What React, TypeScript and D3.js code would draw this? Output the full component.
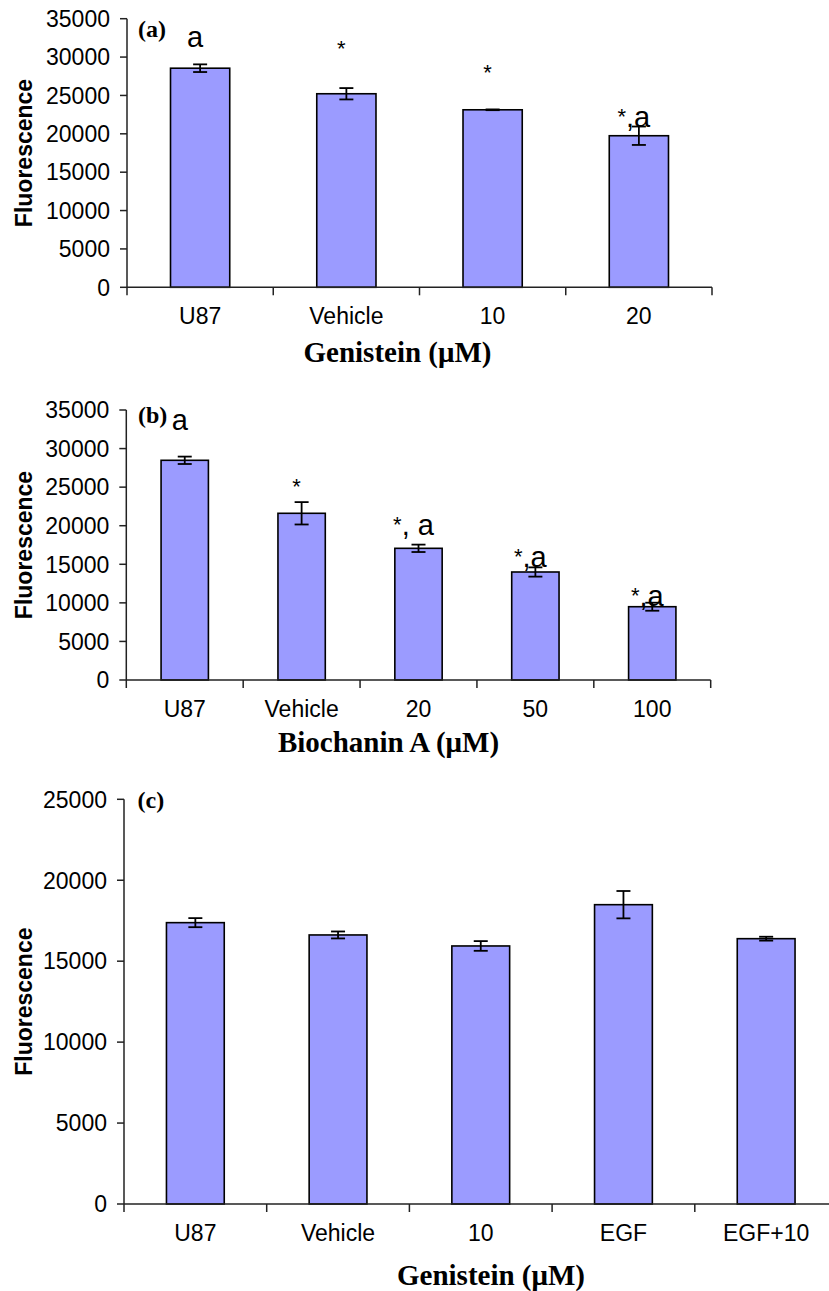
import React from "react";
import * as d3 from "d3";

// ---------- DATA ----------
const catsA = ["U87", "Vehicle", "10", "20"];
const valsA = [28550, 25220, 23130, 19750];
const errsA = [500, 740, 50, 1200];
const notesA = ["a", "*", "*", "*,a"];
const noteLevelA = [31300, 29740, 26650, 20880];

const catsB = ["U87", "Vehicle", "20", "50", "100"];
const valsB = [28480, 21610, 17070, 14000, 9500];
const errsB = [480, 1450, 480, 600, 520];
const notesB = ["a", "*", "*, a", "*,a", "*,a"];
const noteLevelB = [32400, 23720, 18800, 14650, 9590];

const catsC = ["U87", "Vehicle", "10", "EGF", "EGF+10"];
const valsC = [17380, 16620, 15940, 18490, 16390];
const errsC = [280, 215, 300, 845, 120];

const ticksAB = [0, 5000, 10000, 15000, 20000, 25000, 30000, 35000];
const ticksC = [0, 5000, 10000, 15000, 20000, 25000];

// ---------- STYLE ----------
const SANS = "'Liberation Sans', Arial, Helvetica, sans-serif";
const SERIF = "'Liberation Serif', 'Times New Roman', Times, serif";
const FILL = "#9b9bff";
const AXIS = "#222";

type Panel = {
  cats: string[];
  vals: number[];
  errs: number[];
  notes?: string[];
  noteLevels?: number[];
  ticks: number[];
  yMax: number;
  x0: number;
  x1: number;
  yTop: number;
  yBottom: number;
  tag: string;
  tagX: number;
  tagY: number;
  title: string;
  titleX: number;
  titleY: number;
};

const panels: Panel[] = [
  {
    cats: catsA, vals: valsA, errs: errsA, notes: notesA, noteLevels: noteLevelA,
    ticks: ticksAB, yMax: 35000,
    x0: 127, x1: 712, yTop: 18.7, yBottom: 287.3,
    tag: "(a)", tagX: 138, tagY: 37,
    title: "Genistein (\u03bcM)", titleX: 397.5, titleY: 361.5,
  },
  {
    cats: catsB, vals: valsB, errs: errsB, notes: notesB, noteLevels: noteLevelB,
    ticks: ticksAB, yMax: 35000,
    x0: 126.3, x1: 710.7, yTop: 410, yBottom: 680,
    tag: "(b)", tagX: 138, tagY: 423,
    title: "Biochanin A (\u03bcM)", titleX: 388.5, titleY: 751.5,
  },
  {
    cats: catsC, vals: valsC, errs: errsC,
    ticks: ticksC, yMax: 25000,
    x0: 124, x1: 837.5, yTop: 799.3, yBottom: 1204,
    tag: "(c)", tagX: 137.5, tagY: 808,
    title: "Genistein (\u03bcM)", titleX: 491, titleY: 1285,
  },
];

function NoteText({ s }: { s: string }) {
  const parts: React.ReactNode[] = [];
  let shifted = false;
  s.split("").forEach((ch, k) => {
    if (ch === "*") {
      parts.push(
        <tspan key={k} fontSize={22} dy={shifted ? 0 : -3}>
          *
        </tspan>
      );
      shifted = true;
    } else {
      parts.push(
        <tspan key={k} dy={shifted ? 3 : 0}>
          {ch}
        </tspan>
      );
      shifted = false;
    }
  });
  return <>{parts}</>;
}

function BarPanel({ p }: { p: Panel }) {
  const x = d3.scaleBand<string>().domain(p.cats).range([p.x0, p.x1]).padding(0);
  const y = d3.scaleLinear().domain([0, p.yMax]).range([p.yBottom, p.yTop]);
  const bw = x.bandwidth();
  const barW = bw * 0.405;
  const capW = 14;
  const boundaries = [...p.cats.map((c) => x(c) as number), p.x1];
  const yMid = (p.yTop + p.yBottom) / 2;

  return (
    <g>
      {p.cats.map((c, i) => {
        const cx = (x(c) as number) + bw / 2;
        return (
          <rect
            key={"bar" + c}
            x={cx - barW / 2}
            y={y(p.vals[i])}
            width={barW}
            height={y(0) - y(p.vals[i])}
            fill={FILL}
            stroke="#000"
            strokeWidth={1.6}
          />
        );
      })}
      {p.cats.map((c, i) => {
        const cx = (x(c) as number) + bw / 2;
        const hi = y(p.vals[i] + p.errs[i]);
        const lo = y(p.vals[i] - p.errs[i]);
        return (
          <g key={"err" + c} stroke="#000" strokeWidth={1.8}>
            <line x1={cx} x2={cx} y1={hi} y2={lo} />
            <line x1={cx - capW / 2} x2={cx + capW / 2} y1={hi} y2={hi} />
            <line x1={cx - capW / 2} x2={cx + capW / 2} y1={lo} y2={lo} />
          </g>
        );
      })}
      <line x1={p.x0} x2={p.x0} y1={p.yTop} y2={p.yBottom} stroke={AXIS} strokeWidth={1.5} />
      <line x1={p.x0} x2={p.x1} y1={p.yBottom} y2={p.yBottom} stroke={AXIS} strokeWidth={1.5} />
      {p.ticks.map((t) => (
        <g key={"yt" + t}>
          <line x1={p.x0 - 7} x2={p.x0} y1={y(t)} y2={y(t)} stroke={AXIS} strokeWidth={1.5} />
          <text
            x={p.x0 - 17}
            y={y(t)}
            dy="0.36em"
            textAnchor="end"
            fontFamily={SANS}
            fontSize={23}
            fill="#000"
          >
            {t}
          </text>
        </g>
      ))}
      {boundaries.map((bx, i) => (
        <line key={"xt" + i} x1={bx} x2={bx} y1={p.yBottom} y2={p.yBottom + 8} stroke={AXIS} strokeWidth={1.5} />
      ))}
      {p.cats.map((c) => (
        <text
          key={"xl" + c}
          x={(x(c) as number) + bw / 2}
          y={p.yBottom + 37}
          textAnchor="middle"
          fontFamily={SANS}
          fontSize={23}
          fill="#000"
        >
          {c}
        </text>
      ))}
      {p.notes &&
        p.notes.map((n, i) => (
          <text
            key={"n" + i}
            x={(x(p.cats[i]) as number) + bw / 2 - 5}
            y={y((p.noteLevels as number[])[i])}
            textAnchor="middle"
            fontFamily={SANS}
            fontSize={29}
            fill="#000"
          >
            <NoteText s={n} />
          </text>
        ))}
      <text x={p.tagX} y={p.tagY} fontFamily={SERIF} fontWeight="bold" fontSize={24} fill="#000">
        {p.tag}
      </text>
      <text
        transform={`translate(32,${yMid}) rotate(-90)`}
        textAnchor="middle"
        fontFamily={SANS}
        fontWeight="bold"
        fontSize={23}
        fill="#000"
      >
        Fluorescence
      </text>
      <text
        x={p.titleX}
        y={p.titleY}
        textAnchor="middle"
        fontFamily={SERIF}
        fontWeight="bold"
        fontSize={29}
        fill="#000"
      >
        {p.title}
      </text>
    </g>
  );
}

export default function App() {
  return (
    <svg
      width={829}
      height={1291}
      viewBox="0 0 829 1291"
      style={{ position: "absolute", left: 0, top: 0, background: "#fff" }}
    >
      <rect x={0} y={0} width={829} height={1291} fill="#fff" />
      {panels.map((p, i) => (
        <BarPanel key={i} p={p} />
      ))}
    </svg>
  );
}
